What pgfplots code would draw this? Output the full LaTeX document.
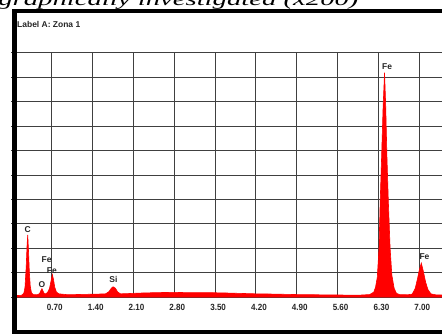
\documentclass[border=0pt]{standalone}
\usepackage{fontspec}
\setmainfont{Liberation Sans}
\newfontfamily\serifit{Liberation Serif}
\usepackage{pgfplots}
\pgfplotsset{compat=1.18}

\definecolor{gridgray}{HTML}{404040}
\definecolor{edsred}{HTML}{FF0000}

\begin{document}
\begin{tikzpicture}[x=1bp,y=1bp]
\begin{axis}[
  at={(11bp,37bp)}, anchor=south west,
  width=431bp, height=244bp, scale only axis,
  xmin=0, xmax=7.39, ymin=0, ymax=10,
  xtick={0.7,1.4,2.1,2.8,3.5,4.2,4.9,5.6,6.3,7.0},
  xticklabels={0.70,1.40,2.10,2.80,3.50,4.20,4.90,5.60,6.30,7.00},
  ytick={0,1,...,10}, yticklabels={},
  grid=major,
  major grid style={draw=gridgray, line width=1bp},
  axis line style={draw=none},
  major tick length=0pt,
  xticklabel style={font=\fontsize{9}{10}\selectfont\bfseries, text=black!85,
    anchor=north, inner sep=0pt, yshift=-7bp, xshift=3bp, xscale=0.9},
  clip=true,
]
\addplot[draw=edsred, fill=edsred, line width=0.6bp] coordinates {
  (0.10,0.06)(0.18,0.07)(0.22,0.15)(0.24,0.4)(0.26,1.2)(0.275,2.1)(0.287,2.55)
  (0.30,1.9)(0.315,1.0)(0.33,0.45)(0.35,0.18)(0.38,0.1)(0.45,0.09)
  (0.49,0.14)(0.51,0.25)(0.53,0.34)(0.55,0.24)(0.57,0.14)
  (0.60,0.13)(0.63,0.2)(0.66,0.35)(0.69,0.7)(0.71,0.92)(0.73,0.7)(0.75,0.4)
  (0.78,0.2)(0.82,0.13)(0.95,0.1)(1.10,0.1)(1.30,0.11)(1.50,0.12)
  (1.62,0.13)(1.68,0.22)(1.72,0.36)(1.75,0.42)(1.79,0.36)(1.83,0.2)(1.88,0.13)
  (2.00,0.14)(2.20,0.16)(2.50,0.18)(2.80,0.19)(3.00,0.18)(3.30,0.18)(3.60,0.17)
  (3.90,0.15)(4.20,0.13)(4.50,0.12)(4.90,0.10)(5.30,0.09)(5.70,0.08)(6.00,0.08)
  (6.15,0.10)(6.22,0.2)(6.25,0.4)(6.28,0.8)(6.31,2.0)(6.33,3.9)(6.355,5.8)
  (6.38,7.8)(6.405,9.2)(6.425,7.8)(6.445,5.8)(6.47,3.9)(6.50,2.0)(6.53,0.9)
  (6.57,0.35)(6.61,0.15)(6.66,0.10)(6.80,0.09)
  (6.88,0.12)(6.93,0.35)(6.97,0.75)(7.00,1.1)(7.035,1.39)(7.07,1.05)(7.11,0.6)
  (7.15,0.3)(7.20,0.13)(7.28,0.09)(7.39,0.08)
} \closedcycle;

% element labels above the peaks
\begin{scope}[every node/.style={font=\fontsize{8.5}{9}\selectfont\bfseries, text=black!85, inner sep=0pt}]
\node at (axis cs:0.287,2.78) {C};
\node at (axis cs:0.53,0.50) {O};
\node at (axis cs:0.61,1.52) {Fe};
\node at (axis cs:0.70,1.10) {Fe};
\node at (axis cs:1.755,0.72) {Si};
\node at (axis cs:6.45,9.45) {Fe};
\node at (axis cs:7.09,1.64) {Fe};
\end{scope}
\end{axis}

% panel title
\node[anchor=west, inner sep=0pt, font=\fontsize{8.5}{9}\selectfont\bfseries, text=black!85]
  at (17,310) {Label A: Zona 1};

% caption line of the page above the panel
\node[anchor=base west, inner sep=0pt, xscale=1.6, font=\serifit\itshape\fontsize{18}{20}\selectfont]
  at (-2,329) {graphically investigated (x200)};

% black panel frame
\fill[black] (12,0.5) rectangle (17,325);
\fill[black] (12,321) rectangle (450,325);
\fill[black] (12,0.5) rectangle (450,4.5);

\pgfresetboundingbox
\path[use as bounding box] (0,0) rectangle (442,334);
\end{tikzpicture}
\end{document}
